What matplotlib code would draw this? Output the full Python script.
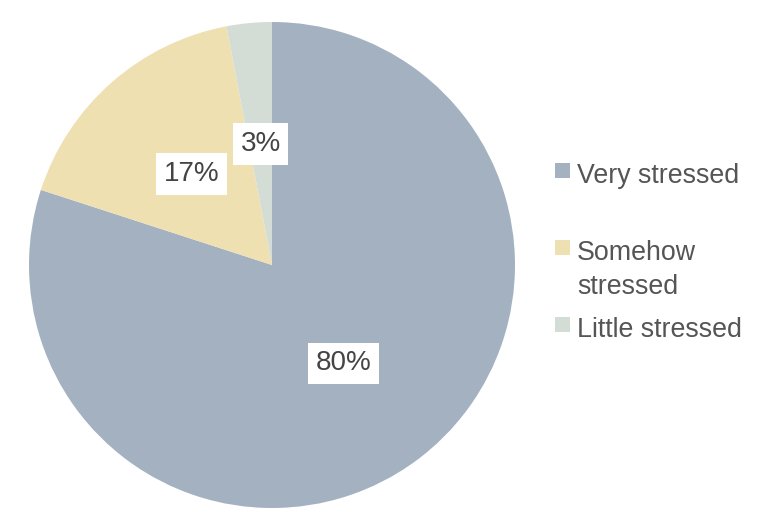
import matplotlib.pyplot as plt
from matplotlib.patches import Rectangle

plt.rcParams['font.family'] = ['Liberation Sans', 'DejaVu Sans']

labels = ['Very stressed', 'Somehow\nstressed', 'Little stressed']
values = [80, 17, 3]
colors = ['#a3b1c1', '#eee0b1', '#d3ddd6']

W, H = 764, 530
fig = plt.figure(figsize=(W / 100, H / 100), dpi=100)

# pie centre and radius in pixels
cx, cy, r = 272, 265, 243
ax = fig.add_axes([(cx - r) / W, (H - cy - r) / H, 2 * r / W, 2 * r / H])

wedges, texts, autotexts = ax.pie(
    values, colors=colors, startangle=90, counterclock=False,
    autopct='%d%%', pctdistance=0.5, radius=1,
    wedgeprops=dict(linewidth=0),
    textprops=dict(fontsize=20, color='#444444'))
for t in autotexts:
    t.set_bbox(dict(boxstyle='square,pad=0.28', facecolor='white', edgecolor='none'))
ax.set_xlim(-1, 1)
ax.set_ylim(-1, 1)
ax.set_aspect('equal')


def fx(px):
    return px / W


def fy(py):
    return 1 - py / H


# legend drawn by hand, text top-aligned with the marker
for i, (lab, col) in enumerate(zip(labels, colors)):
    base = 183 + 77 * i
    fig.patches.append(Rectangle((fx(555), fy(base - 5)), 15 / W, 15 / H,
                                 transform=fig.transFigure, facecolor=col,
                                 edgecolor='none'))
    lines = lab.split('\n')
    for j, line in enumerate(lines):
        fig.text(fx(577), fy(base + 34 * j), line, fontsize=19.3,
                 color='#555555', va='baseline', ha='left')

fig.savefig('out.png', dpi=100)
